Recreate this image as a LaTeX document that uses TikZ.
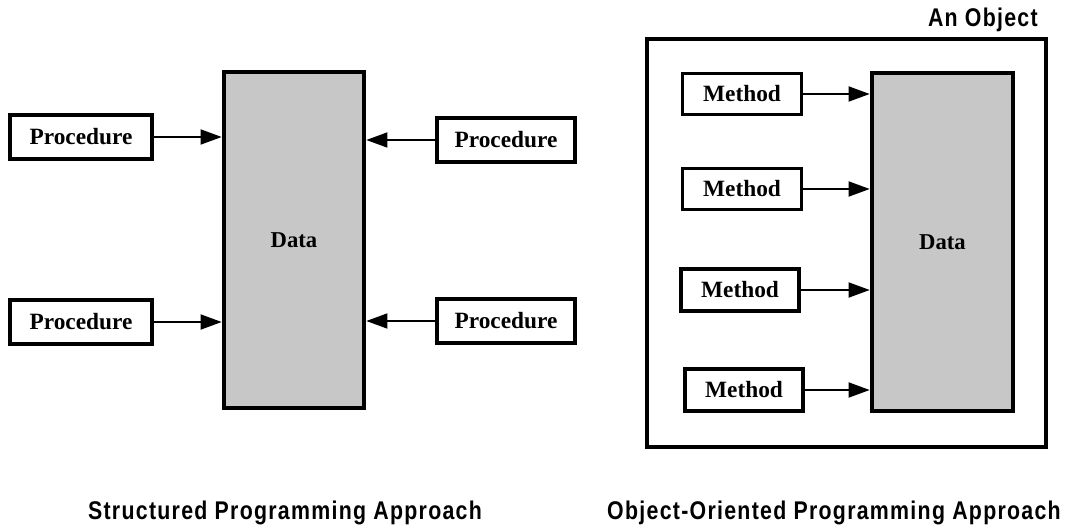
\documentclass[tikz,border=0pt]{standalone}
\usepackage{fontspec}
\setmainfont{Liberation Serif}
\newfontfamily\capfont[LetterSpace=6]{Liberation Sans}
\usetikzlibrary{arrows.meta}
\newcommand{\captall}[1]{\scalebox{1}[1.2]{#1}}
\tikzset{
  box/.style={draw=black, line width=2.6pt, fill=white, inner sep=0pt,
    font=\fontsize{17.5}{20}\selectfont\bfseries},
  databox/.style={draw=black, line width=3.2pt, fill=black!22, inner sep=0pt,
    font=\fontsize{17}{20}\selectfont\bfseries},
  outerbox/.style={draw=black, line width=2.4pt, fill=none},
  arr/.style={line width=2.2pt, -{Triangle[length=16pt,width=11pt]}},
  captxt/.style={font=\capfont\fontsize{16}{19}\selectfont\bfseries, inner sep=0pt, anchor=base}
}
\begin{document}
\begin{tikzpicture}[x=0.75pt,y=-0.75pt]
\useasboundingbox (0,0) rectangle (1070,527);
% ---------- Structured ----------
\node[databox, minimum width=140*0.75pt, minimum height=336*0.75pt] (dl) at (294,240) {Data};
\node[box, minimum width=142*0.75pt, minimum height=44*0.75pt] (pl1) at (81,137) {Procedure};
\node[box, minimum width=142*0.75pt, minimum height=44*0.75pt] (pl2) at (81,322) {Procedure};
\node[box, minimum width=138*0.75pt, minimum height=44*0.75pt] (pr1) at (506,140) {Procedure};
\node[box, minimum width=138*0.75pt, minimum height=44*0.75pt] (pr2) at (506,321) {Procedure};
\draw[arr] (pl1.east) -- (pl1.east -| dl.west);
\draw[arr] (pl2.east) -- (pl2.east -| dl.west);
\draw[arr] (pr1.west) -- (pr1.west -| dl.east);
\draw[arr] (pr2.west) -- (pr2.west -| dl.east);
\node[captxt] (c1) at (285,519) {\captall{Structured Programming Approach}};
% ---------- Object-Oriented ----------
\node[outerbox, minimum width=399*0.75pt, minimum height=408*0.75pt, inner sep=0pt] (obj) at (846.5,243) {};
\node[captxt, anchor=base east] (objlbl) at (1038,27) {\captall{An Object}};
\node[databox, minimum width=141*0.75pt, minimum height=338*0.75pt] (dr) at (942.5,242) {Data};
\node[box, minimum width=119*0.75pt, minimum height=41*0.75pt] (m1) at (742,94) {Method};
\node[box, minimum width=119*0.75pt, minimum height=41*0.75pt] (m2) at (742,189) {Method};
\node[box, minimum width=118*0.75pt, minimum height=42*0.75pt] (m3) at (740,290) {Method};
\node[box, minimum width=118*0.75pt, minimum height=42*0.75pt] (m4) at (744,390) {Method};
\draw[arr] (m1.east) -- (m1.east -| dr.west);
\draw[arr] (m2.east) -- (m2.east -| dr.west);
\draw[arr] (m3.east) -- (m3.east -| dr.west);
\draw[arr] (m4.east) -- (m4.east -| dr.west);
\node[captxt] (c2) at (834,519) {\captall{Object-Oriented Programming Approach}};
\end{tikzpicture}
\end{document}
